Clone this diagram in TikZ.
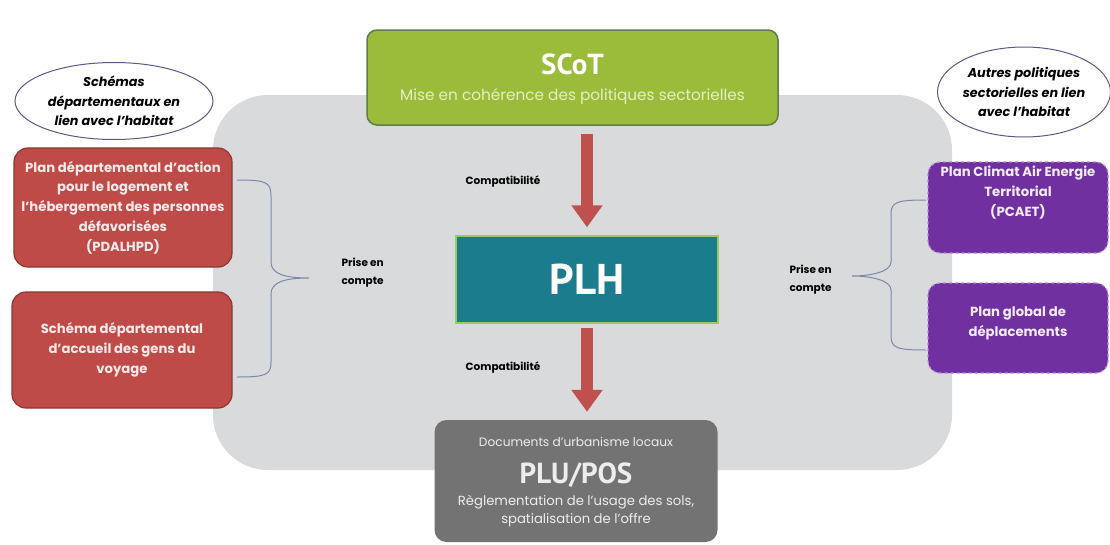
\documentclass[tikz,border=0pt]{standalone}
\usepackage{fontspec}
\setmainfont{Poppins}
\newfontfamily\titlefont{PT Sans}
\usetikzlibrary{shapes.geometric,arrows.meta,calc}
\definecolor{bggray}{HTML}{D9DADB}
\definecolor{scotgreen}{HTML}{9BBB3B}
\definecolor{scotborder}{HTML}{5E7D4E}
\definecolor{plhteal}{HTML}{1B7C8E}
\definecolor{plhborder}{HTML}{9BCB5A}
\definecolor{boxred}{HTML}{BF4B48}
\definecolor{redborder}{HTML}{8E3532}
\definecolor{boxpurple}{HTML}{7030A0}
\definecolor{purpleborder}{HTML}{B58AD8}
\definecolor{plugray}{HTML}{737373}
\definecolor{braceblue}{HTML}{7A8AA8}
\definecolor{arrowred}{HTML}{C0504D}
\definecolor{subgreen}{HTML}{E4F0C4}
\definecolor{ellborder}{HTML}{5A5A8A}
\definecolor{redtext}{HTML}{FBEAEA}
\definecolor{purpletext}{HTML}{F3EAFB}
\definecolor{plutext}{HTML}{EDEDED}
\begin{document}
\begin{tikzpicture}[x=1pt,y=-1pt,
  redbox/.style={draw=redborder, line width=1.2pt, fill=boxred, rounded corners=14pt,
    text=redtext, align=center, font=\bfseries\fontsize{13.2}{19.8}\selectfont, inner sep=2pt},
  purplebox/.style={draw=purpleborder, line width=1.2pt, dashed, fill=boxpurple, rounded corners=12pt},
  purpletxt/.style={text=purpletext, align=center, font=\bfseries\fontsize{13.2}{20}\selectfont, inner sep=0pt},
  ell/.style={ellipse, draw=ellborder, line width=1pt, fill=white, align=center,
    font=\itshape\bfseries\fontsize{12.8}{19.5}\selectfont, inner sep=0pt},
  lbl/.style={font=\bfseries\fontsize{10.5}{18}\selectfont, text=black, align=left},
  bracestyle/.style={draw=braceblue, line width=1pt},
  bigarrow/.style={draw=arrowred, line width=12pt, -{Triangle[width=30pt,length=22pt]}},
  plutxt/.style={text=plutext, align=center, inner sep=0pt}
]
\useasboundingbox (0,0) rectangle (1110,544);
\fill[white] (0,0) rectangle (1110,544);
\fill[bggray, rounded corners=55pt] (213,95) rectangle (952,470);

% central column
\node[draw=scotborder, line width=1.5pt, fill=scotgreen, rounded corners=10pt,
  minimum width=411pt, minimum height=95pt] (scot) at (572.5,77.5) {};
\node[text=white, font=\titlefont\bfseries\fontsize{29}{30}\selectfont, inner sep=0pt]
  (scott) at (572.5,64) {SCoT};
\node[text=subgreen, font=\fontsize{15.3}{16}\selectfont, inner sep=0pt]
  (scots) at (572.5,97) {Mise en cohérence des politiques sectorielles};

\node[draw=plhborder, line width=1.5pt, fill=plhteal, minimum width=262pt, minimum height=87pt,
  text=white, font=\titlefont\bfseries\fontsize{43}{44}\selectfont] (plh) at (587,279.5) {PLH};

\node[fill=plugray, rounded corners=12pt, minimum width=283pt, minimum height=122pt] (plu) at (576,481) {};
\node[plutxt, font=\fontsize{12.2}{13}\selectfont] (plu1) at (576,442) {Documents d'urbanisme locaux};
\node[plutxt, font=\titlefont\bfseries\fontsize{29}{30}\selectfont] (plu2) at (576,475) {PLU/POS};
\node[plutxt, font=\fontsize{13.2}{18}\selectfont] (plu3) at (576,511)
  {Règlementation de l'usage des sols,\\spatialisation de l'offre};

\draw[bigarrow, shorten <=8pt, shorten >=8pt] (scot.south -| plh.north) -- (plh.north);
\draw[bigarrow, shorten <=4pt, shorten >=8pt] (plh.south) -- (plh.south |- plu.north);

\node[lbl] (c1) at (503,182) {Compatibilité};
\node[lbl] (c2) at (503,368) {Compatibilité};

% left side
\node[ell, minimum width=198pt, minimum height=77pt] (lell) at (114,101)
  {Schémas\\départementaux en\\lien avec l'habitat};
\node[redbox, minimum width=218pt, minimum height=119pt] (r1) at (123,207.5)
  {Plan départemental d'action\\pour le logement et\\l'hébergement des personnes\\défavorisées\\(PDALHPD)};
\node[redbox, minimum width=220pt, minimum height=116pt] (r2) at (122,350)
  {Schéma départemental\\d'accueil des gens du\\voyage};
\node[lbl, anchor=west] (pl) at (338,273) {Prise en\\compte};
\coordinate (lt) at (237,180);
\coordinate (lb) at (237,377);
\coordinate (lm) at (309,278);
\draw[bracestyle] (lt) .. controls (266,180) and (271,182) .. (271,196) -- (271,262)
  .. controls (271,274) and (285,278) .. (lm)
  .. controls (285,278) and (271,282) .. (271,294) -- (271,362)
  .. controls (271,375) and (266,377) .. (lb);

% right side
\node[ell, minimum width=168pt, minimum height=90pt] (rell) at (1024,92)
  {Autres politiques\\sectorielles en lien\\avec l'habitat};
\node[purplebox, minimum width=180pt, minimum height=91pt] (p1) at (1018,207.5) {};
\node[purpletxt] (p1t) at (1018,193) {Plan Climat Air Energie\\Territorial\\(PCAET)};
\node[purplebox, minimum width=180pt, minimum height=90pt] (p2) at (1018,328) {};
\node[purpletxt] (p2t) at (1018,323) {Plan global de\\déplacements};
\node[lbl, anchor=west] (pr) at (786,280) {Prise en\\compte};
\coordinate (rt) at (926,200);
\coordinate (rb) at (926,350);
\coordinate (rm) at (852,276);
\draw[bracestyle] (rt) .. controls (897,200) and (891,202) .. (891,214) -- (891,262)
  .. controls (891,272) and (870,276) .. (rm)
  .. controls (870,276) and (891,280) .. (891,290) -- (891,336)
  .. controls (891,348) and (897,350) .. (rb);
\end{tikzpicture}
\end{document}
